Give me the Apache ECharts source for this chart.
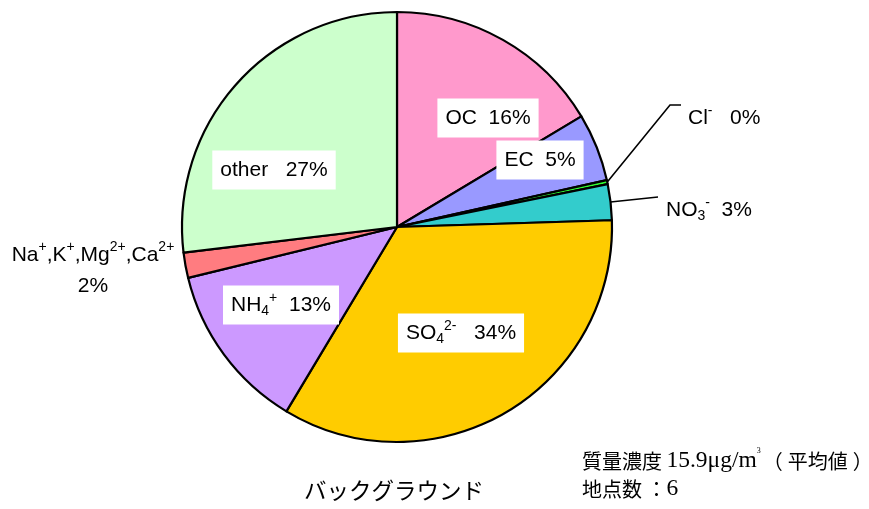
<!DOCTYPE html>
<html>
<head>
<meta charset="utf-8">
<script src="https://cdn.jsdelivr.net/npm/echarts@6/dist/echarts.min.js"></script>
<style>html,body{margin:0;padding:0;background:#fff;}#c{width:869px;height:509px;}</style>
</head>
<body>
<div id="c"></div>
<script>
// ---- data ----
const categories = ['OC', 'EC', 'Cl-', 'NO3-', 'SO42-', 'NH4+', 'Na+,K+,Mg2+,Ca2+', 'other'];
const values = [16.4, 5.1, 0.3, 2.7, 34.1, 12.6, 1.9, 26.9];
const colors = ['#FF99CC', '#9999FF', '#33FF33', '#33CCCC', '#FFCC00', '#CC99FF', '#FF7C80', '#CCFFCC'];
// rich-text name rendering (sub/superscripts)
const richNames = [
  '{t|OC}', '{t|EC}', '{t|Cl}{sup|-}', '{t|NO}{sub|3}{sup|-}', '{t|SO}{sub|4}{sup|2-}',
  '{t|NH}{sub|4}{sup|+}', '{n|Na}{ns|+}{n|,K}{ns|+}{n|,Mg}{ns|2+}{n|,Ca}{ns|2+}', '{t|other}'
];
const nameGap = ['  ', '  ', '   ', '  ', '   ', '  ', '\n', '   '];
const centerTitle = 'バックグラウンド';
const noteLine1 = ['質量濃度 ', '15.9μg/m', '3', '（', '平均値', '）'];
const noteLine2 = ['地点数 ：', '6'];

// ---- label placement (layout only) ----
const labelPlace = [
  {x: 488, y: 118, align: 'center'},
  {x: 540, y: 160, align: 'center'},
  {x: 688, y: 118, align: 'left', line: [[670, 105], [681, 105]]},
  {x: 666, y: 210, align: 'left', line: [[658, 197], [658, 197]]},
  {x: 461, y: 333, align: 'center'},
  {x: 281, y: 305, align: 'center'},
  {x: 93, y: 271, align: 'center'},
  {x: 274, y: 170, align: 'center'}
];
const inside = [true, true, false, false, true, true, false, true];

const chart = echarts.init(document.getElementById('c'), null, {renderer: 'canvas'});
const FONT = '"Liberation Sans", Arial, sans-serif';
const rich = {
  t: {fontSize: 21, fontFamily: FONT, color: '#000', lineHeight: 27},
  sub: {fontSize: 14, fontFamily: FONT, color: '#000', lineHeight: 14, verticalAlign: 'bottom'},
  sup: {fontSize: 14, fontFamily: FONT, color: '#000', lineHeight: 21, verticalAlign: 'top'},
  n: {fontSize: 21, fontFamily: FONT, color: '#000', lineHeight: 31},
  ns: {fontSize: 14, fontFamily: FONT, color: '#000', lineHeight: 25, verticalAlign: 'top'}
};

const data = categories.map((c, i) => ({
  name: c,
  value: values[i],
  itemStyle: {color: colors[i]},
  label: inside[i] ? {
    position: 'inside', backgroundColor: '#fff', padding: [6, 8]
  } : {
    position: 'outside'
  },
  labelLine: {show: !inside[i] && !!labelPlace[i].line, lineStyle: {color: '#000', width: 1.6}}
}));

chart.setOption({
  animation: false,
  series: [{
    type: 'pie',
    center: [397, 227],
    radius: 215,
    startAngle: 90,
    clockwise: true,
    avoidLabelOverlap: false,
    percentPrecision: 1,
    itemStyle: {borderColor: '#000', borderWidth: 2.2},
    emphasis: {disabled: true},
    label: {
      show: true,
      formatter: function (p) {
        const i = p.dataIndex;
        return richNames[i] + '{' + (i === 6 ? 'n' : 't') + '|' + nameGap[i] + Math.round(p.percent) + '%}';
      },
      rich: rich
    },
    labelLayout: function (params) {
      const pl = labelPlace[params.dataIndex];
      const out = {x: pl.x, y: pl.y, align: pl.align, verticalAlign: 'middle'};
      if (pl.line && params.labelLinePoints) {
        out.labelLinePoints = [params.labelLinePoints[0], pl.line[0], pl.line[1]];
      }
      return out;
    },
    data: data
  }],
  graphic: [
    {
      type: 'text', left: 304, top: 479,
      style: {text: centerTitle, font: '22.5px "Noto Sans CJK JP"', fill: '#000'}
    },
    {
      type: 'text', left: 582, top: 447,
      style: {
        text: '{j|' + noteLine1[0] + '}{s|' + noteLine1[1] + '}{u|' + noteLine1[2] + '}{j|' + noteLine1[3] + '}{p|' + noteLine1[4] + '}{j|' + noteLine1[5] + '}\n{j|' + noteLine2[0] + '}{s|' + noteLine2[1] + '}',
        rich: {
          j: {fontSize: 20, fontFamily: '"Noto Sans CJK JP"', fill: '#000', lineHeight: 28},
          p: {fontSize: 20, fontFamily: '"Noto Sans CJK JP"', fill: '#000', lineHeight: 28, padding: [0, 5, 0, 5]},
          s: {fontSize: 23.5, fontFamily: '"Liberation Serif", "DejaVu Serif", serif', fill: '#000', lineHeight: 28},
          u: {fontSize: 8, fontFamily: '"Liberation Serif", serif', fill: '#000', lineHeight: 22, verticalAlign: 'top', padding: [0, 2, 0, 0]}
        }
      }
    }
  ]
});
</script>
</body>
</html>
